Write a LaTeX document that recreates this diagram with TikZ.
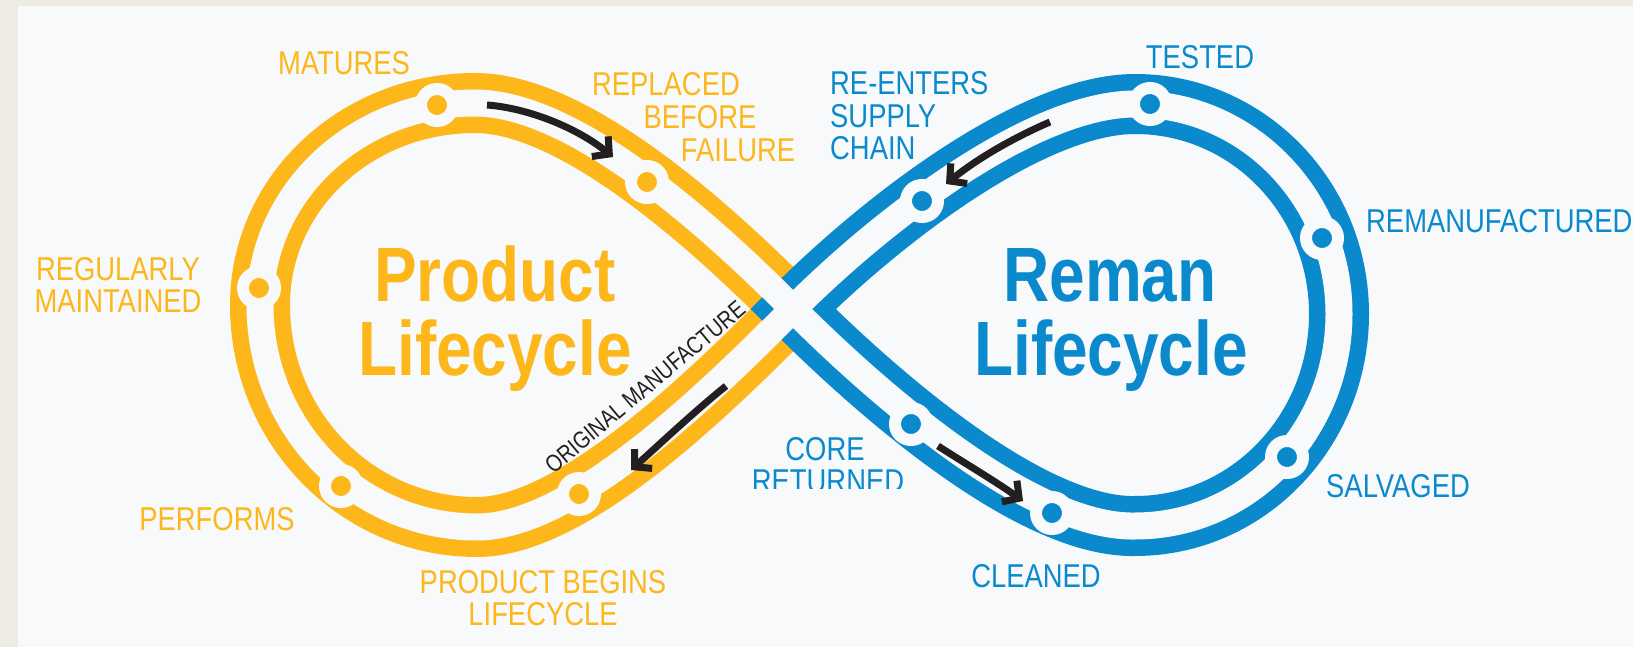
\documentclass[tikz,border=0pt]{standalone}
\usepackage{fontspec}
\setmainfont{Liberation Sans}
\newfontfamily\lblfont[FakeStretch=0.83]{Liberation Sans}
\newfontfamily\ttlfont[FakeStretch=0.83]{Liberation Sans}
\usetikzlibrary{arrows.meta}
\definecolor{ylw}{HTML}{FDB71A}
\definecolor{blu}{HTML}{0A89CD}
\definecolor{panel}{HTML}{F7F9FB}
\definecolor{frame}{HTML}{EEECE2}
\definecolor{ink}{HTML}{231F20}
\def\leftlobe{(793,309) .. controls (700,215) and (570,103) .. (475,103)
  .. controls (356,103) and (260,193) .. (260,305)
  .. controls (260,428) and (357,527) .. (477,527)
  .. controls (570,527) and (700,403) .. (793,309)}
\def\rightlobe{(793,309) .. controls (888,214) and (1035,104) .. (1135,104)
  .. controls (1248,104) and (1339,198) .. (1339,314)
  .. controls (1339,431) and (1248,526) .. (1135,526)
  .. controls (1035,528) and (888,404) .. (793,309)}
\begin{document}
\begin{tikzpicture}[x=1pt,y=-1pt,
  band/.style={line width=60pt, line cap=butt, line join=round},
  core/.style={line width=27pt, line cap=butt, line join=round, draw=panel},
  station/.style={circle, minimum size=32pt, inner sep=0pt, line width=12pt, draw=panel},
  ystation/.style={station, fill=ylw},
  bstation/.style={station, fill=blu},
  lbl/.style={font=\lblfont\fontsize{33}{33}\selectfont, inner sep=0pt, anchor=base},
  ylbl/.style={lbl, text=ylw},
  blbl/.style={lbl, text=blu},
  ttl/.style={font=\ttlfont\bfseries\fontsize{77}{77}\selectfont, inner sep=0pt, anchor=base},
  arw/.style={draw=ink, line width=7pt, -{Straight Barb[length=12pt, width=26pt, line width=7pt]}}
]
\useasboundingbox (0,0) rectangle (1633,647);
\fill[frame] (0,0) rectangle (1633,647);
\fill[panel] (18,6) rectangle (1633,647);

% track
\draw[band, draw=ylw] \leftlobe;
\draw[band, draw=blu] \rightlobe;
\draw[core] \leftlobe;
\draw[core] \rightlobe;
\fill[blu] (750.5,309) -- (762.2,297.3) -- (773.9,309) -- (762.2,320.7) -- cycle;

% stations
\node[ystation] (s-matures) at (437,105) {};
\node[ystation] (s-replaced) at (647,182) {};
\node[ystation] (s-regular) at (259,288) {};
\node[ystation] (s-performs) at (341,486) {};
\node[ystation] (s-begins) at (579,494) {};
\node[bstation] (s-tested) at (1150,104) {};
\node[bstation] (s-reenters) at (922,201) {};
\node[bstation] (s-reman) at (1322,238) {};
\node[bstation] (s-salvaged) at (1287,457) {};
\node[bstation] (s-cleaned) at (1052,513) {};
\node[bstation] (s-core) at (911,424) {};

% arrows
\coordinate (a1s) at (487,105); \coordinate (a1e) at (613,157);
\coordinate (a2s) at (726,386); \coordinate (a2e) at (631,470);
\coordinate (a3s) at (1050,122); \coordinate (a3e) at (946,184);
\coordinate (a4s) at (938,446); \coordinate (a4e) at (1023,501);
\draw[arw] (a1s) .. controls (527,108) and (576,127) .. (a1e);
\draw[arw] (a2s) .. controls (695,411) and (662,442) .. (a2e);
\draw[arw] (a3s) .. controls (1015,137) and (978,158) .. (a3e);
\draw[arw] (a4s) .. controls (966,464) and (995,481) .. (a4e);

% titles
\node[ttl, text=ylw] (title-product) at (495,301) {Product};
\node[ttl, text=ylw] (title-plife) at (495,375) {Lifecycle};
\node[ttl, text=blu] (title-reman) at (1110,301) {Reman};
\node[ttl, text=blu] (title-rlife) at (1111,375) {Lifecycle};

% yellow labels
\node[ylbl] (t-matures) at (344,75) {MATURES};
\node[ylbl] (t-replaced) at (666,96) {REPLACED};
\node[ylbl] (t-before) at (700,129) {BEFORE};
\node[ylbl] (t-failure) at (738,162) {FAILURE};
\node[ylbl] (t-regularly) at (118,280) {REGULARLY};
\node[ylbl] (t-maintained) at (118,312) {MAINTAINED};
\node[ylbl] (t-performs) at (217,530) {PERFORMS};
\node[ylbl] (t-begins) at (543,593) {PRODUCT BEGINS};
\node[ylbl] (t-lifecycle) at (543,625) {LIFECYCLE};

% blue labels
\node[blbl] (t-tested) at (1200,69) {TESTED};
\node[blbl, anchor=base west] (t-reenters) at (830,95) {RE-ENTERS};
\node[blbl, anchor=base west] (t-supply) at (830,128) {SUPPLY};
\node[blbl, anchor=base west] (t-chain) at (830,160) {CHAIN};
\node[blbl, anchor=base west] (t-reman) at (1366,233) {REMANUFACTURED};
\node[blbl, anchor=base west] (t-salvaged) at (1326,497) {SALVAGED};
\node[blbl] (t-core) at (825,460) {CORE};
\begin{scope}
\clip (700,440) rectangle (960,488);
\node[blbl] (t-returned) at (828,492) {RETURNED};
\end{scope}
\node[blbl] (t-cleaned) at (1036,587) {CLEANED};

% rotated label
\node[rotate=40, font=\lblfont\fontsize{24}{24}\selectfont, text=ink, inner sep=0pt] (t-orig) at (645,387) {ORIGINAL MANUFACTURE};
\end{tikzpicture}
\end{document}
